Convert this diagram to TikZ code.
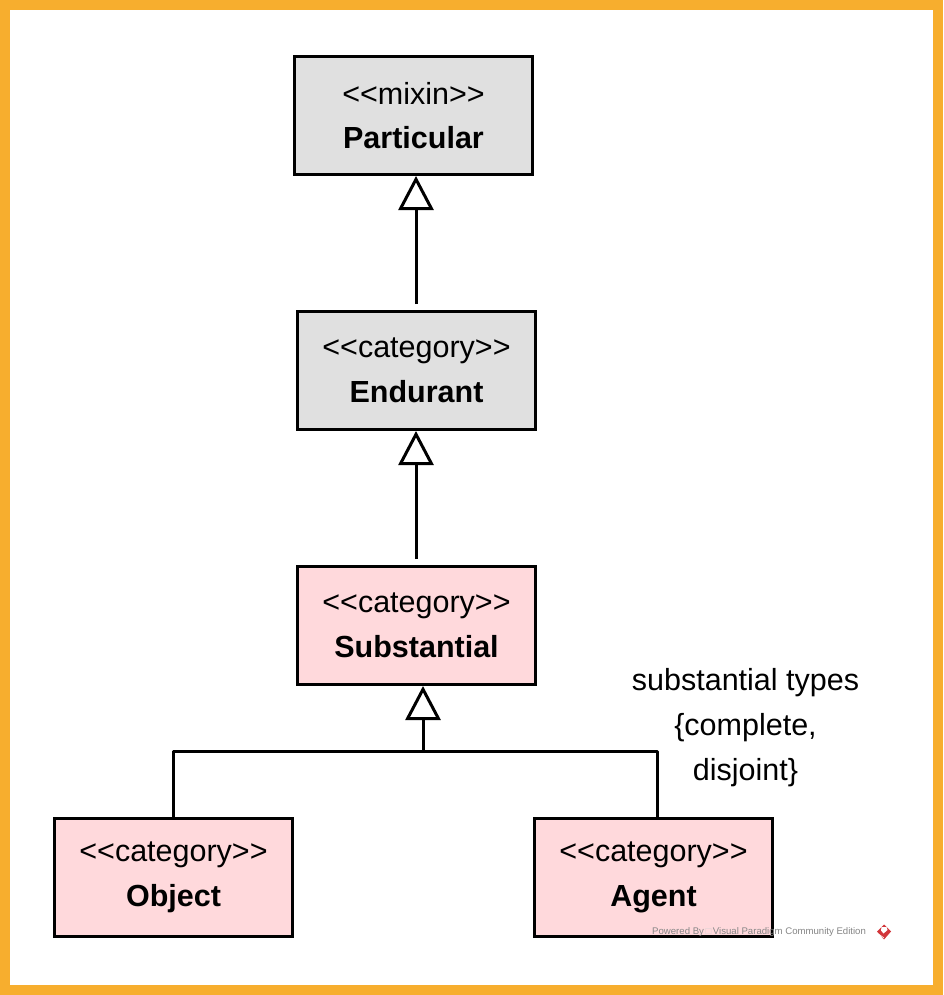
\documentclass[tikz,border=0pt]{standalone}
\usepackage{fontspec}
\setmainfont{Liberation Sans}
\usepackage[usenames, table, x11names]{xcolor}
\usetikzlibrary{arrows.meta}
\definecolor{frameorange}{HTML}{F7AE2E}
\definecolor{boxgray}{HTML}{E0E0E0}
\definecolor{boxpink}{HTML}{FFD9DC}
\definecolor{vpred}{HTML}{D2363A}
\tikzset{
	umlbox/.style={draw=black,line width=3pt,minimum width=238pt,minimum height=118pt,inner sep=0pt,align=center,font=\fontsize{30.5}{45}\selectfont},
	graybox/.style={umlbox,fill=boxgray},
	pinkbox/.style={umlbox,fill=boxpink},
	general/.style={line width=3pt,-{Triangle[open,fill=white,length=34pt,width=35pt,line width=3pt]}},
	treeline/.style={line width=3pt,line cap=round,line join=round}
}
\newcommand{\stereo}[2]{<{}<#1>{}>\\[-0.5pt]\textbf{#2}}
\begin{document}
\begin{tikzpicture}[x=1pt,y=-1pt]
	\useasboundingbox (0,0) rectangle (943,995);
	\fill[frameorange] (0,0) rectangle (943,995);
	\fill[white] (10,10) rectangle (933,985);
	\node[graybox] (particular) at (413.5,115.5) {\stereo{mixin}{Particular}};
	\node[graybox] (endurant) at (416.5,370.5) {\stereo{category}{Endurant}};
	\node[pinkbox] (substantial) at (416.5,625.5) {\stereo{category}{Substantial}};
	\node[pinkbox] (object) at (173.5,877.5) {\stereo{category}{Object}};
	\node[pinkbox] (agent) at (653.5,877.5) {\stereo{category}{Agent}};
	% generalization arrows
	\coordinate (endtop) at (416,304);
	\coordinate (subtop) at (416,559);
	\coordinate (treejoin) at (423,751);
	\draw[general] (endtop) -- (endtop |- particular.south);
	\draw[general] (subtop) -- (subtop |- endurant.south);
	\draw[general] (treejoin) -- (treejoin |- substantial.south);
	\coordinate (objtop) at (173,0);
	\coordinate (agtop) at (657,0);
	\draw[treeline] (objtop |- object.north) -- (objtop |- treejoin) -- (agtop |- treejoin) -- (agtop |- agent.north);
	\node[align=center,font=\fontsize{30.5}{45}\selectfont] (types) at (745.5,728) {substantial types\\\{complete,\\disjoint\}};
	% watermark
	\node[anchor=west,inner sep=0pt,text=black!48,font=\fontsize{9.6}{12}\selectfont] (powered) at (652,932.5) {Powered By{\color{black!18}\,□\,}Visual Paradigm Community Edition};
	\fill[vpred] (884,924.5) -- (891,931.5) -- (884,939.5) -- (877,931.5) -- cycle;
	\fill[white] (881.5,927) -- (886.5,927) -- (887.5,930) -- (883.5,933.5) -- (881,930.5) -- cycle;
	\draw[white,line width=0.6pt] (878.5,934) -- (884,938);
\end{tikzpicture}
\end{document}
